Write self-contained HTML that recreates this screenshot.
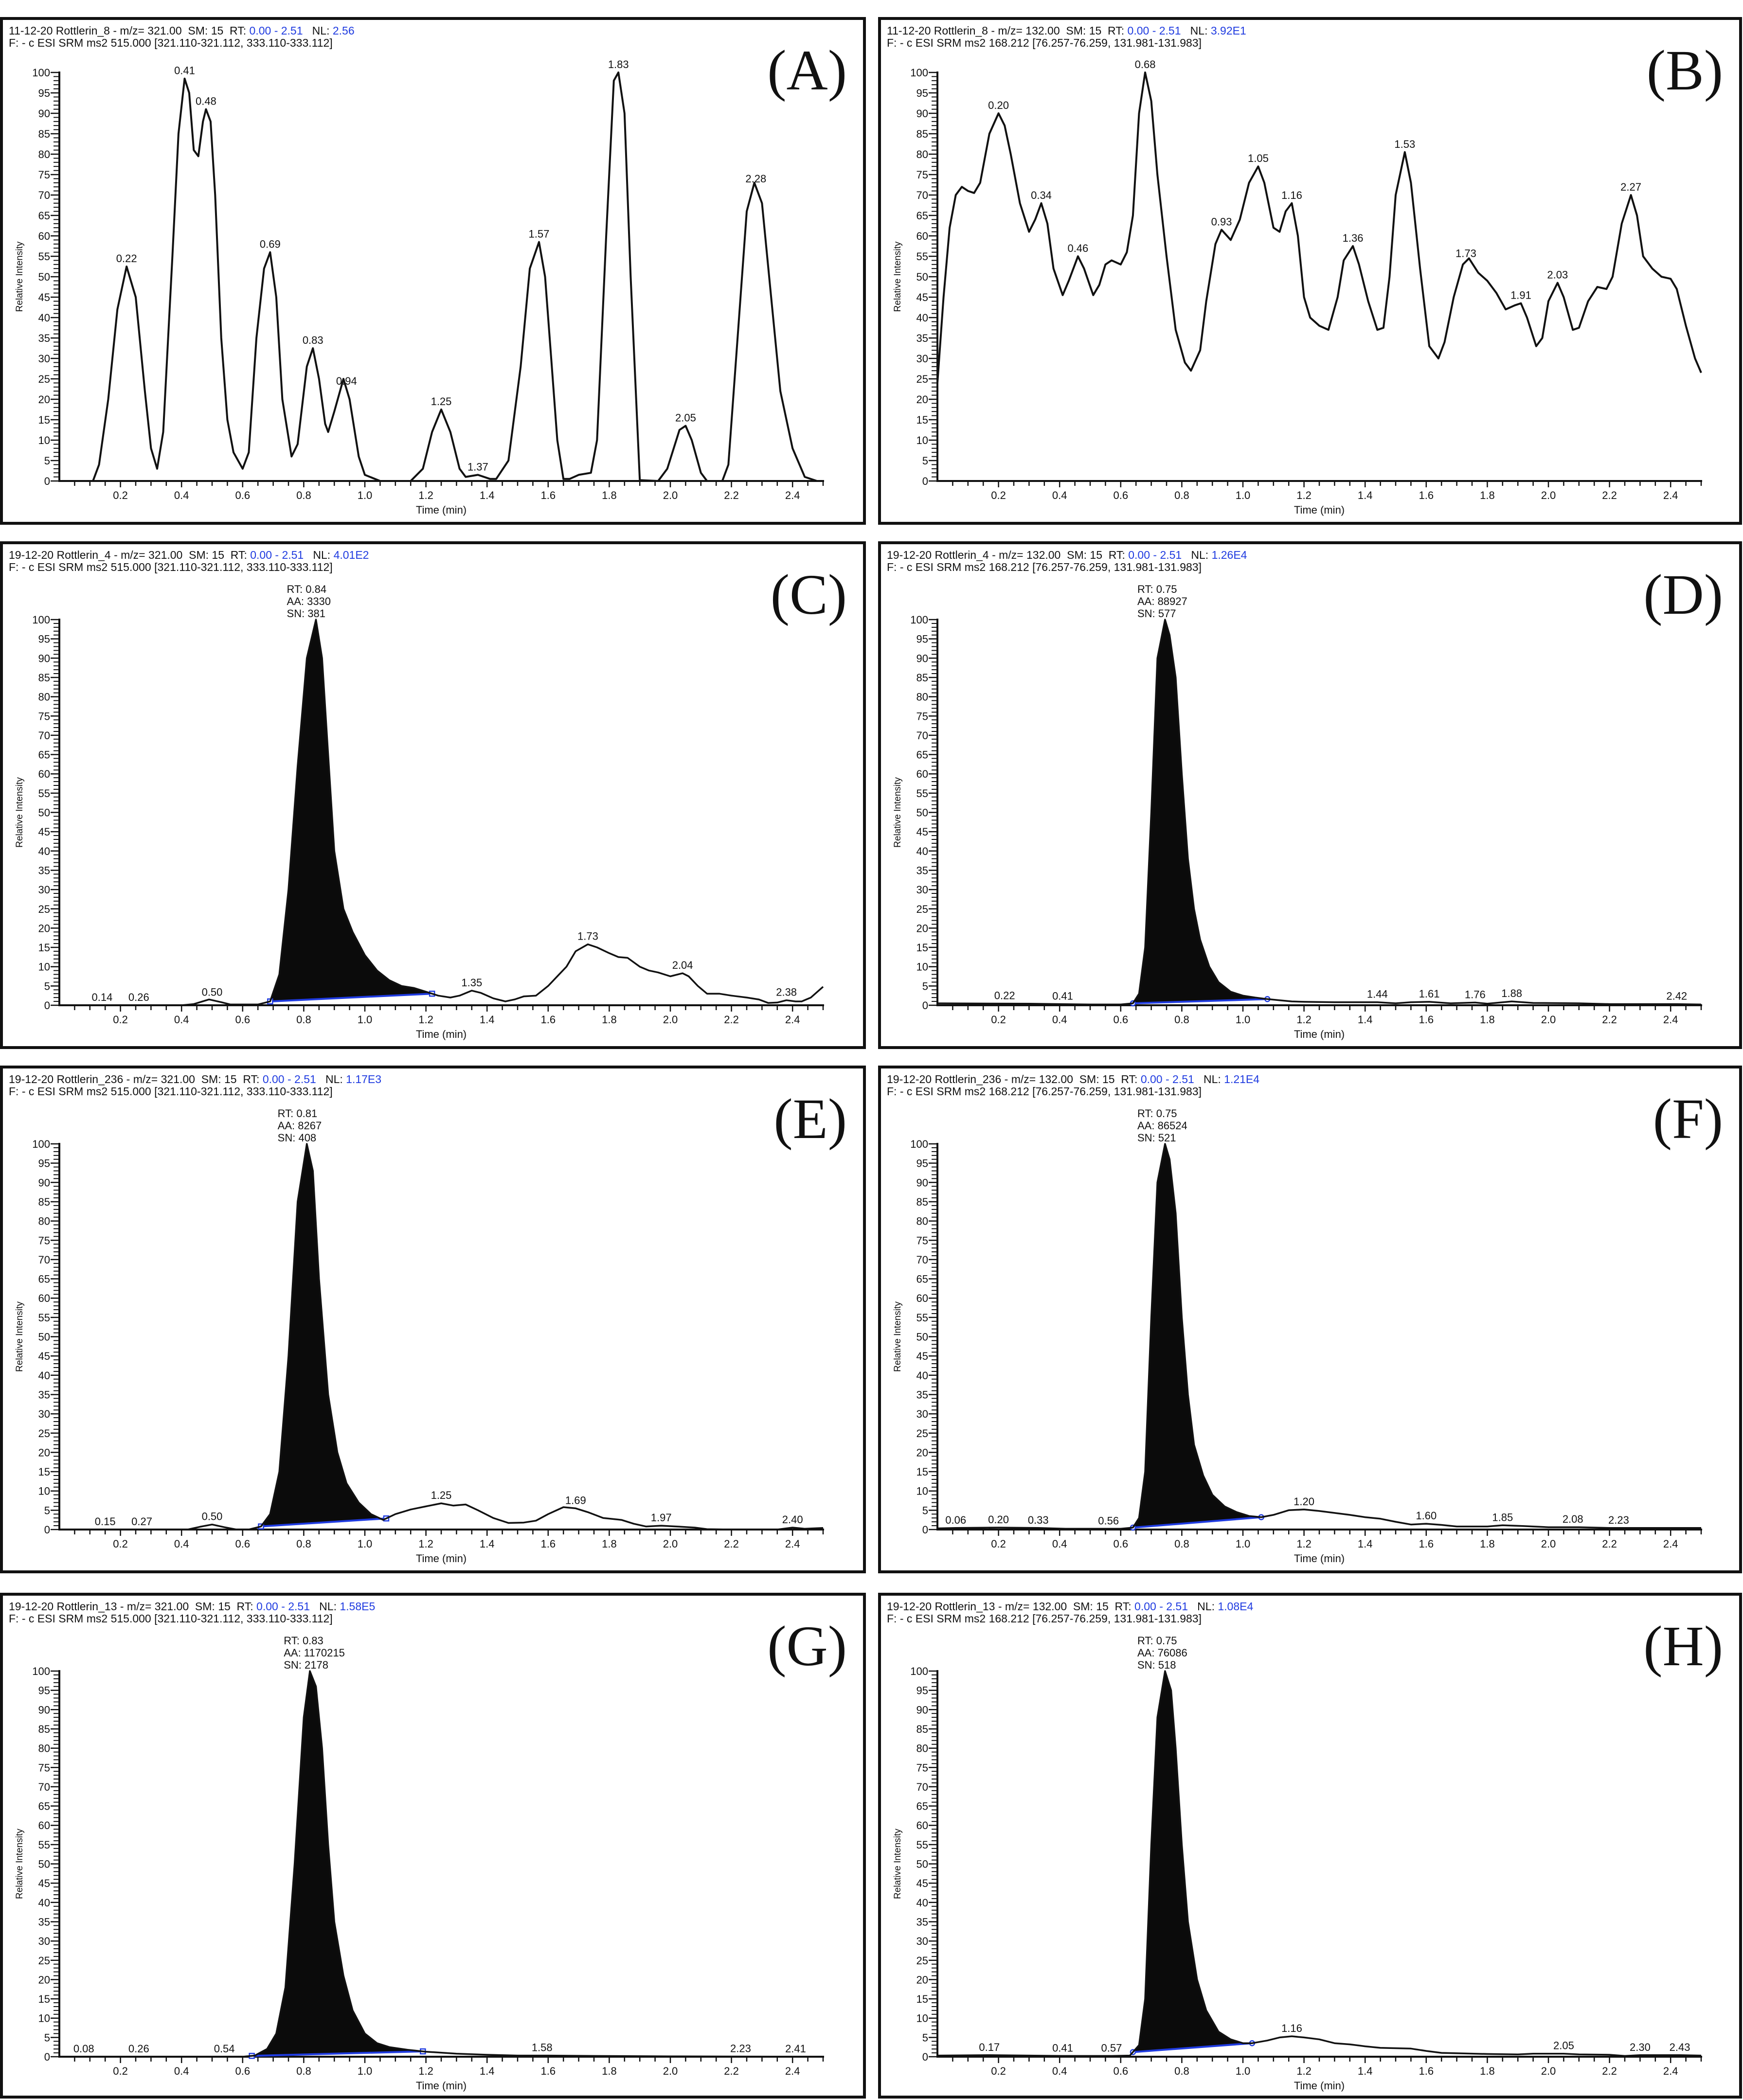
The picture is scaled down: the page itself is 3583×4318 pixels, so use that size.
<!DOCTYPE html>
<html><head><meta charset="utf-8"><style>
html,body{margin:0;padding:0;background:#fff}
svg{display:block}
text{font-family:"Liberation Sans",Arial,sans-serif;fill:#111}
</style></head><body>
<svg id="fig" xmlns="http://www.w3.org/2000/svg" width="3583" height="4318" viewBox="0 0 3583 4318">
<rect x="0" y="0" width="3583" height="4318" fill="#fff"/>
</svg>
<script>
// ---- Panel A data ----
const aTimes=[0,0.11,0.13,0.16,0.19,0.22,0.25,0.28,0.3,0.32,0.34,0.37,0.39,0.41,0.425,0.44,0.455,0.47,0.48,0.495,0.51,0.53,0.55,0.57,0.6,0.62,0.645,0.67,0.69,0.71,0.73,0.76,0.78,0.81,0.83,0.85,0.87,0.88,0.9,0.93,0.95,0.98,1.0,1.05,1.15,1.19,1.22,1.25,1.28,1.31,1.33,1.37,1.41,1.43,1.47,1.51,1.54,1.57,1.59,1.61,1.63,1.65,1.67,1.7,1.74,1.76,1.79,1.815,1.83,1.85,1.87,1.9,1.96,1.99,2.03,2.05,2.07,2.1,2.12,2.17,2.19,2.22,2.25,2.275,2.3,2.33,2.36,2.4,2.44,2.48,2.5];
const aValues=[0,0,4,20,42,52.5,45,22,8,3,12,55,85,98.5,95,81,79.5,88,91,88,70,35,15,7,3,7,35,52,56,45,20,6,9,28,32.5,25,14,12,17,25,20,6,1.5,0,0,3,12,17.5,12,3,1,1.5,0.5,0.5,5,28,52,58.5,50,30,10,0.5,0.5,1.5,2,10,60,98,100,90,50,0.2,0,3,12.5,13.5,10,2,0,0,4,35,66,73,68,45,22,8,1,0,0];
const aLabels=[0.22,0.41,0.48,0.69,0.83,0.94,1.25,1.37,1.57,1.83,2.05,2.28];
// ---- Panel B data ----
const bTimes=[0,0.02,0.04,0.06,0.08,0.1,0.12,0.14,0.17,0.2,0.22,0.24,0.27,0.3,0.32,0.34,0.36,0.38,0.41,0.43,0.46,0.48,0.51,0.53,0.55,0.57,0.6,0.62,0.64,0.66,0.68,0.7,0.72,0.75,0.78,0.81,0.83,0.86,0.88,0.91,0.93,0.96,0.99,1.02,1.05,1.07,1.1,1.12,1.14,1.16,1.18,1.2,1.22,1.25,1.28,1.31,1.33,1.36,1.38,1.41,1.44,1.46,1.48,1.5,1.53,1.55,1.58,1.61,1.64,1.66,1.69,1.72,1.74,1.77,1.8,1.83,1.86,1.89,1.91,1.93,1.96,1.98,2.0,2.03,2.05,2.08,2.1,2.13,2.16,2.19,2.21,2.24,2.27,2.29,2.31,2.34,2.37,2.4,2.42,2.45,2.48,2.5];
const bValues=[24,45,62,70,72,71,70.5,73,85,90,87,80,68,61,64,68,63,52,45.5,49,55,52,45.5,48,53,54,53,56,65,90,100,93,75,55,37,29,27,32,44,58,61.5,59,64,73,77,73,62,61,66,68,60,45,40,38,37,45,54,57.5,53,44,37,37.5,50,70,80.5,73,52,33,30,34,45,53,54.5,51,49,46,42,43,43.5,40,33,35,44,48.5,45,37,37.5,44,47.5,47,50,63,70,65,55,52,50,49.5,47,38,30,26.5];
const bLabels=[0.20,0.34,0.46,0.68,0.93,1.05,1.16,1.36,1.53,1.73,1.91,2.03,2.27];
// ---- Panel C data ----
const cTimes=[0,0.4,0.44,0.49,0.53,0.56,0.65,0.69,0.72,0.75,0.78,0.81,0.84,0.86,0.88,0.9,0.93,0.96,1.0,1.04,1.08,1.12,1.16,1.2,1.24,1.28,1.31,1.35,1.38,1.42,1.46,1.49,1.52,1.56,1.6,1.63,1.66,1.69,1.73,1.76,1.8,1.83,1.86,1.9,1.93,1.96,2.0,2.04,2.06,2.09,2.12,2.16,2.2,2.25,2.29,2.32,2.35,2.38,2.41,2.43,2.46,2.5];
const cValues=[0,0,0.3,1.5,0.8,0.2,0.2,1,8,30,62,90,100,90,65,40,25,19,13,9,6.5,5,4.5,3.5,2.5,2,2.5,3.8,3.2,1.8,1,1.5,2.3,2.5,5,7.5,10,14,15.8,15,13.5,12.5,12.3,10,9,8.5,7.5,8.3,7.5,5,3,3,2.5,2,1.5,0.6,0.7,1.3,1,1,2,4.8];
const cLabels=[0.14,0.26,0.50,1.35,1.73,2.04,2.38];
// ---- Panel D data ----
const dTimes=[0,0.3,0.5,0.6,0.64,0.66,0.68,0.7,0.72,0.745,0.76,0.78,0.8,0.82,0.84,0.86,0.89,0.92,0.96,1.0,1.04,1.08,1.12,1.16,1.2,1.3,1.44,1.5,1.55,1.61,1.68,1.76,1.8,1.88,1.95,2.1,2.2,2.42,2.5];
const dValues=[0.5,0.4,0.2,0.2,0.5,3,15,50,90,100,96,85,60,38,25,17,10,6,3.5,2.5,2,1.6,1.3,1,0.9,0.8,0.8,0.5,0.8,0.9,0.5,0.7,0.4,1,0.6,0.5,0.3,0.3,0.2];
const dLabels=[0.22,0.41,1.44,1.61,1.76,1.88,2.42];
// ---- Panel E data ----
const eTimes=[0,0.42,0.46,0.5,0.54,0.58,0.62,0.66,0.69,0.72,0.75,0.78,0.81,0.83,0.85,0.88,0.91,0.94,0.98,1.02,1.06,1.1,1.15,1.2,1.25,1.29,1.33,1.37,1.42,1.47,1.52,1.56,1.6,1.65,1.69,1.73,1.78,1.84,1.88,1.92,1.97,2.02,2.08,2.12,2.2,2.35,2.4,2.44,2.5];
const eValues=[0,0,0.7,1.3,0.6,0,0,0.8,4,15,45,85,100,93,65,35,20,12,7,4,2.5,4,5.2,6,6.8,6.2,6.5,5,3,1.7,1.8,2.3,4,5.8,5.5,4.5,3,2.5,1.5,0.8,1,0.8,0.5,0.1,0,0,0.5,0.2,0.4];
const eLabels=[0.15,0.27,0.50,1.25,1.69,1.97,2.40];
// ---- Panel F data ----
const fTimes=[0,0.06,0.2,0.33,0.42,0.5,0.6,0.64,0.66,0.68,0.7,0.72,0.745,0.76,0.78,0.8,0.82,0.84,0.87,0.9,0.94,0.98,1.02,1.06,1.1,1.15,1.2,1.25,1.3,1.35,1.4,1.45,1.5,1.55,1.6,1.65,1.7,1.8,1.85,1.92,2.0,2.1,2.2,2.5];
const fValues=[0.3,0.4,0.5,0.4,0.2,0.2,0.2,0.5,3,15,55,90,100,96,82,55,35,22,14,9,6,4.5,3.5,3.2,3.8,5,5.2,4.8,4.3,3.8,3.2,2.8,2,1.3,1.5,1.2,0.8,0.8,1.1,0.9,0.6,0.6,0.4,0.4];
const fLabels=[0.06,0.20,0.33,0.56,1.20,1.60,1.85,2.08,2.23];
// ---- Panel G data ----
const gTimes=[0,0.6,0.64,0.68,0.71,0.74,0.77,0.8,0.82,0.84,0.86,0.88,0.9,0.93,0.96,1.0,1.04,1.08,1.14,1.2,1.3,1.4,1.5,1.6,1.75,2.0,2.5];
const gValues=[0,0,0.3,2,6,18,50,88,100,96,80,55,35,21,12,6,3.5,2.5,1.8,1.3,0.8,0.5,0.3,0.3,0.2,0.1,0];
const gLabels=[0.08,0.26,0.54,1.58,2.23,2.41];
// ---- Panel H data ----
const hTimes=[0,0.17,0.3,0.41,0.57,0.63,0.66,0.68,0.7,0.72,0.745,0.765,0.78,0.8,0.82,0.85,0.88,0.92,0.96,1.0,1.03,1.08,1.12,1.16,1.2,1.25,1.3,1.35,1.4,1.45,1.55,1.6,1.65,1.7,1.8,1.9,1.95,2.05,2.1,2.2,2.25,2.3,2.43,2.5];
const hValues=[0.3,0.4,0.3,0.2,0.2,0.3,3,15,55,88,100,95,80,55,35,20,12,6.5,4.5,3.5,3.5,4.2,5,5.3,5,4.5,3.5,3.2,2.7,2.3,2.1,1.5,1,0.9,0.7,0.6,0.8,0.8,0.6,0.5,0.2,0.4,0.4,0.3];
const hLabels=[0.17,0.41,0.57,1.16,2.05,2.30,2.43];
// integration info: [start, end, peakRT, AA, SN]
const cPeak=[0.69,1.22,0.84,"3330","381"];
const dPeak=[0.64,1.08,0.75,"88927","577"];
const ePeak=[0.66,1.07,0.81,"8267","408"];
const fPeak=[0.64,1.06,0.75,"86524","521"];
const gPeak=[0.63,1.19,0.83,"1170215","2178"];
const hPeak=[0.64,1.03,0.75,"76086","518"];

const NS="http://www.w3.org/2000/svg";
const svg=document.getElementById('fig');
function mk(tag,attrs,parent){const e=document.createElementNS(NS,tag);for(const k in attrs)e.setAttribute(k,attrs[k]);(parent||svg).appendChild(e);return e;}
function interp(T,V,t){const n=Math.min(T.length,V.length);if(t<=T[0])return V[0];for(let i=1;i<n;i++){if(t<=T[i]){const f=(t-T[i-1])/(T[i]-T[i-1]);return V[i-1]+f*(V[i]-V[i-1]);}}return V[n-1];}

const panels=[
 {id:'a',letter:'(A)',bx:3,by:38,w:1774,h:1038,top:true,T:aTimes,V:aValues,L:aLabels,peak:null,marker:'sq',
  l1:['11-12-20 Rottlerin_8 - m/z= 321.00  SM: 15  RT: ','0.00 - 2.51','   NL: ','2.56'],l2:'F: - c ESI SRM ms2 515.000 [321.110-321.112, 333.110-333.112]'},
 {id:'b',letter:'(B)',bx:1808,by:38,w:1770,h:1038,top:true,T:bTimes,V:bValues,L:bLabels,peak:null,marker:'ci',
  l1:['11-12-20 Rottlerin_8 - m/z= 132.00  SM: 15  RT: ','0.00 - 2.51','   NL: ','3.92E1'],l2:'F: - c ESI SRM ms2 168.212 [76.257-76.259, 131.981-131.983]'},
 {id:'c',letter:'(C)',bx:3,by:1116,w:1774,h:1038,top:false,T:cTimes,V:cValues,L:cLabels,peak:cPeak,marker:'sq',
  l1:['19-12-20 Rottlerin_4 - m/z= 321.00  SM: 15  RT: ','0.00 - 2.51','   NL: ','4.01E2'],l2:'F: - c ESI SRM ms2 515.000 [321.110-321.112, 333.110-333.112]'},
 {id:'d',letter:'(D)',bx:1808,by:1116,w:1770,h:1038,top:false,T:dTimes,V:dValues,L:dLabels,peak:dPeak,marker:'ci',
  l1:['19-12-20 Rottlerin_4 - m/z= 132.00  SM: 15  RT: ','0.00 - 2.51','   NL: ','1.26E4'],l2:'F: - c ESI SRM ms2 168.212 [76.257-76.259, 131.981-131.983]'},
 {id:'e',letter:'(E)',bx:3,by:2194,w:1774,h:1038,top:false,T:eTimes,V:eValues,L:eLabels,peak:ePeak,marker:'sq',
  l1:['19-12-20 Rottlerin_236 - m/z= 321.00  SM: 15  RT: ','0.00 - 2.51','   NL: ','1.17E3'],l2:'F: - c ESI SRM ms2 515.000 [321.110-321.112, 333.110-333.112]'},
 {id:'f',letter:'(F)',bx:1808,by:2194,w:1770,h:1038,top:false,T:fTimes,V:fValues,L:fLabels,peak:fPeak,marker:'ci',
  l1:['19-12-20 Rottlerin_236 - m/z= 132.00  SM: 15  RT: ','0.00 - 2.51','   NL: ','1.21E4'],l2:'F: - c ESI SRM ms2 168.212 [76.257-76.259, 131.981-131.983]'},
 {id:'g',letter:'(G)',bx:3,by:3278,w:1774,h:1034,top:false,T:gTimes,V:gValues,L:gLabels,peak:gPeak,marker:'sq',
  l1:['19-12-20 Rottlerin_13 - m/z= 321.00  SM: 15  RT: ','0.00 - 2.51','   NL: ','1.58E5'],l2:'F: - c ESI SRM ms2 515.000 [321.110-321.112, 333.110-333.112]'},
 {id:'h',letter:'(H)',bx:1808,by:3278,w:1770,h:1034,top:false,T:hTimes,V:hValues,L:hLabels,peak:hPeak,marker:'ci',
  l1:['19-12-20 Rottlerin_13 - m/z= 132.00  SM: 15  RT: ','0.00 - 2.51','   NL: ','1.08E4'],l2:'F: - c ESI SRM ms2 168.212 [76.257-76.259, 131.981-131.983]'}
];

panels.forEach(p=>{
  const g=mk('g',{});
  
  
  const ox=p.bx+119, sx=628;
  const y0=p.by+951, y100=p.top?p.by+111:p.by+158;
  const X=t=>ox+t*sx;
  const Y=v=>y0-(v/100)*(y0-y100);

  const border=mk('rect',{x:p.bx,y:p.by,width:p.w,height:p.h,fill:'none',stroke:'#111','stroke-width':6},g);
  
  

  const h1=mk('text',{x:p.bx+15,y:p.by+33,'font-size':23},g);
  
  
  p.l1.forEach((s,i)=>{const ts=mk('tspan',{},h1);ts.textContent=s;if(i%2===1)ts.setAttribute('style','fill:#1f3be0');});
  h1.style.whiteSpace='pre';
  const h2=mk('text',{x:p.bx+15,y:p.by+58,'font-size':23},g);
  h2.textContent=p.l2;
  
  

  const let1=mk('text',{x:p.bx+p.w-36,y:p.by+146,'font-size':118,'text-anchor':'end',style:'font-family:"Liberation Serif",serif'},g);
  let1.textContent=p.letter;
  
  

  const ya=mk('line',{x1:ox,y1:y100-2,x2:ox,y2:y0+2,stroke:'#111','stroke-width':4},g);
  
  
  for(let v=0;v<=100;v++){
    const major=v%5===0;
    mk('line',{x1:ox-(major?18:12),y1:Y(v),x2:ox,y2:Y(v),stroke:'#111','stroke-width':major?2.5:2},g);
    if(major){const tl=mk('text',{x:ox-19,y:Y(v)+8,'font-size':22,'text-anchor':'end'},g);tl.textContent=v;
      
      }
  }
  const yt=mk('text',{x:0,y:0,'font-size':19,'text-anchor':'middle',transform:`translate(${ox-76},${(y0+y100)/2}) rotate(-90)`},g);
  yt.textContent='Relative Intensity';
  
  

  const xa=mk('line',{x1:ox,y1:y0,x2:X(2.5)+2,y2:y0,stroke:'#111','stroke-width':4},g);
  
  
  for(let k=1;k<=50;k++){
    const t=k*0.05, major=k%4===0;
    mk('line',{x1:X(t),y1:y0,x2:X(t),y2:y0+(major?13:10),stroke:'#111','stroke-width':2.5},g);
    if(major&&t<2.45){const tl=mk('text',{x:X(t),y:y0+37,'font-size':22,'text-anchor':'middle'},g);tl.textContent=t.toFixed(1);
      
      }
  }
  const xt=mk('text',{x:X(1.25),y:y0+67,'font-size':22,'text-anchor':'middle'},g);
  xt.textContent='Time (min)';
  
  

  const n=Math.min(p.T.length,p.V.length);
  if(p.peak){
    const [s,e,rt,aa,sn]=p.peak;
    const vs=interp(p.T,p.V,s), ve=interp(p.T,p.V,e);
    let pts=[[X(s),Y(vs)]];
    for(let i=0;i<n;i++){if(p.T[i]>s&&p.T[i]<e)pts.push([X(p.T[i]),Y(p.V[i])]);}
    pts.push([X(e),Y(ve)]);
    const fill=mk('polygon',{points:pts.map(q=>q.join(',')).join(' '),fill:'#0b0b0b'},g);
    
    
    const bl=mk('line',{x1:X(s),y1:Y(vs),x2:X(e),y2:Y(ve),stroke:'#1f3be0','stroke-width':4},g);
    
    
    [[s,vs],[e,ve]].forEach(q=>{
      let m;
      if(p.marker==='sq') m=mk('rect',{x:X(q[0])-5,y:Y(q[1])-5,width:10,height:10,fill:'#fff',stroke:'#1f3be0','stroke-width':2.5},g);
      else m=mk('circle',{cx:X(q[0]),cy:Y(q[1]),r:5,fill:'#fff',stroke:'#1f3be0','stroke-width':2.5},g);
      
      
    });
    const ann=['RT: '+rt.toFixed(2),'AA: '+aa,'SN: '+sn];
    ann.forEach((a,i)=>{const tx=mk('text',{x:X(rt)-60,y:y100-55+i*25,'font-size':22},g);tx.textContent=a;
      
      });
  }
  let d='';
  for(let i=0;i<n;i++){d+=(i?'L':'M')+X(p.T[i]).toFixed(1)+','+Y(p.V[i]).toFixed(1);}
  const tr=mk('path',{d:d,fill:'none',stroke:'#111','stroke-width':p.top?4:3.5,'stroke-linejoin':'round'},g);
  
  
  p.L.forEach(t=>{
    const v=interp(p.T,p.V,t);
    const lb=mk('text',{x:X(t),y:Y(v)-9,'font-size':22,'text-anchor':'middle'},g);
    lb.textContent=t.toFixed(2);
    
    
  });
});
</script>
</body></html>
